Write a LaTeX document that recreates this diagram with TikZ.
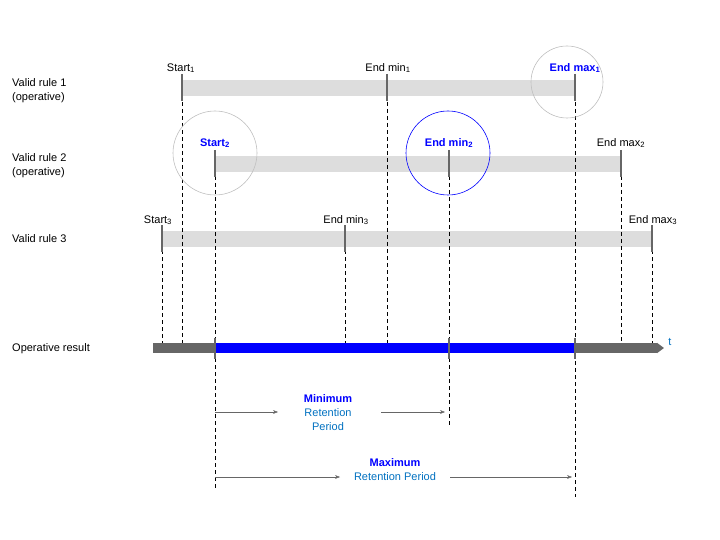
\documentclass[tikz,border=0pt]{standalone}
\usepackage{fontspec}
\setmainfont{Liberation Sans}
\usetikzlibrary{arrows.meta}
\definecolor{bar}{HTML}{DDDDDD}
\definecolor{tk}{HTML}{666666}
\definecolor{lb}{HTML}{0070C0}
\begin{document}
\begin{tikzpicture}[x=1pt,y=-1pt,font=\fontsize{11}{14}\selectfont,
 barline/.style={line width=16pt,bar},
 tick/.style={line width=2pt,tk},
 dln/.style={dash pattern=on 4pt off 3pt,black,line width=0.6pt},
 lab/.style={inner sep=1pt,anchor=south},
 hl/.style={lab,text=blue,font=\fontsize{11}{14}\selectfont\bfseries},
 rowlab/.style={anchor=west,align=left,inner sep=0pt},
 ring/.style={line width=0.6pt}]
\useasboundingbox (0,0) rectangle (720,540);
% left labels
\node[rowlab] (r1) at (12,91) {Valid rule 1\\(operative)};
\node[rowlab] (r2) at (12,166) {Valid rule 2\\(operative)};
\node[rowlab] (r3) at (12,239) {Valid rule 3};
\node[rowlab] (op) at (12,349) {Operative result};
% bars
\draw[barline] (182,88) -- (575,88);
\draw[barline] (215,164) -- (621,164);
\draw[barline] (162,239) -- (652,239);
% dashed
\foreach \x/\a/\b in {162/250/345,182/102/345,215/176/490,345/250/345,387/102/345,449/176/425,575/102/497,621/176/345,652/250/345}
  \draw[dln] (\x,\a) -- (\x,\b);
% ticks
\foreach \x/\y in {182/88,387/88,575/88,215/164,449/164,621/164,162/239,345/239,652/239}
  \draw[tick] (\x,\y-14) -- (\x,\y+13);
% labels
\node[lab] (s1) at (181,74) {Start\textsubscript{1}};
\node[lab] (m1) at (388,74) {End min\textsubscript{1}};
\node[hl] (x1) at (575,74) {End max\textsubscript{1}};
\node[hl] (s2) at (215,149) {Start\textsubscript{2}};
\node[hl] (m2) at (449,149) {End min\textsubscript{2}};
\node[lab] (x2) at (621,149) {End max\textsubscript{2}};
\node[lab] (s3) at (158,226) {Start\textsubscript{3}};
\node[lab] (m3) at (346,226) {End min\textsubscript{3}};
\node[lab] (x3) at (653,226) {End max\textsubscript{3}};
% circles
\draw[ring,gray!50] (567,82) circle (36);
\draw[ring,gray!50] (215,153) circle (42);
\draw[ring,blue] (448,153) circle (42);
% operative result
\draw[line width=10pt,tk,-{Triangle[length=7pt,width=10pt]}] (153,348) -- (664,348);
\draw[line width=10pt,blue] (215,348) -- (575,348);
\foreach \x in {215,449,575} \draw[tick] (\x,338) -- (\x,359);
\node[text=lb] (t) at (670,342) {t};
% retention periods
\node[align=center,text=lb,inner sep=1pt] (minp) at (328,413) {\textcolor{blue}{\bfseries Minimum}\\Retention\\Period};
\coordinate (ma) at (215,412); \coordinate (mb) at (445,412);
\draw[tk,-{Stealth[length=5pt]}] (ma) -- (278,412);
\draw[tk,-{Stealth[length=5pt]}] (381,412) -- (mb);
\node[align=center,text=lb,inner sep=1pt] (maxp) at (395,470) {\textcolor{blue}{\bfseries Maximum}\\Retention Period};
\coordinate (xa) at (215,477); \coordinate (xb) at (572,477);
\draw[tk,-{Stealth[length=5pt]}] (xa) -- (340,477);
\draw[tk,-{Stealth[length=5pt]}] (450,477) -- (xb);
\end{tikzpicture}
\end{document}
